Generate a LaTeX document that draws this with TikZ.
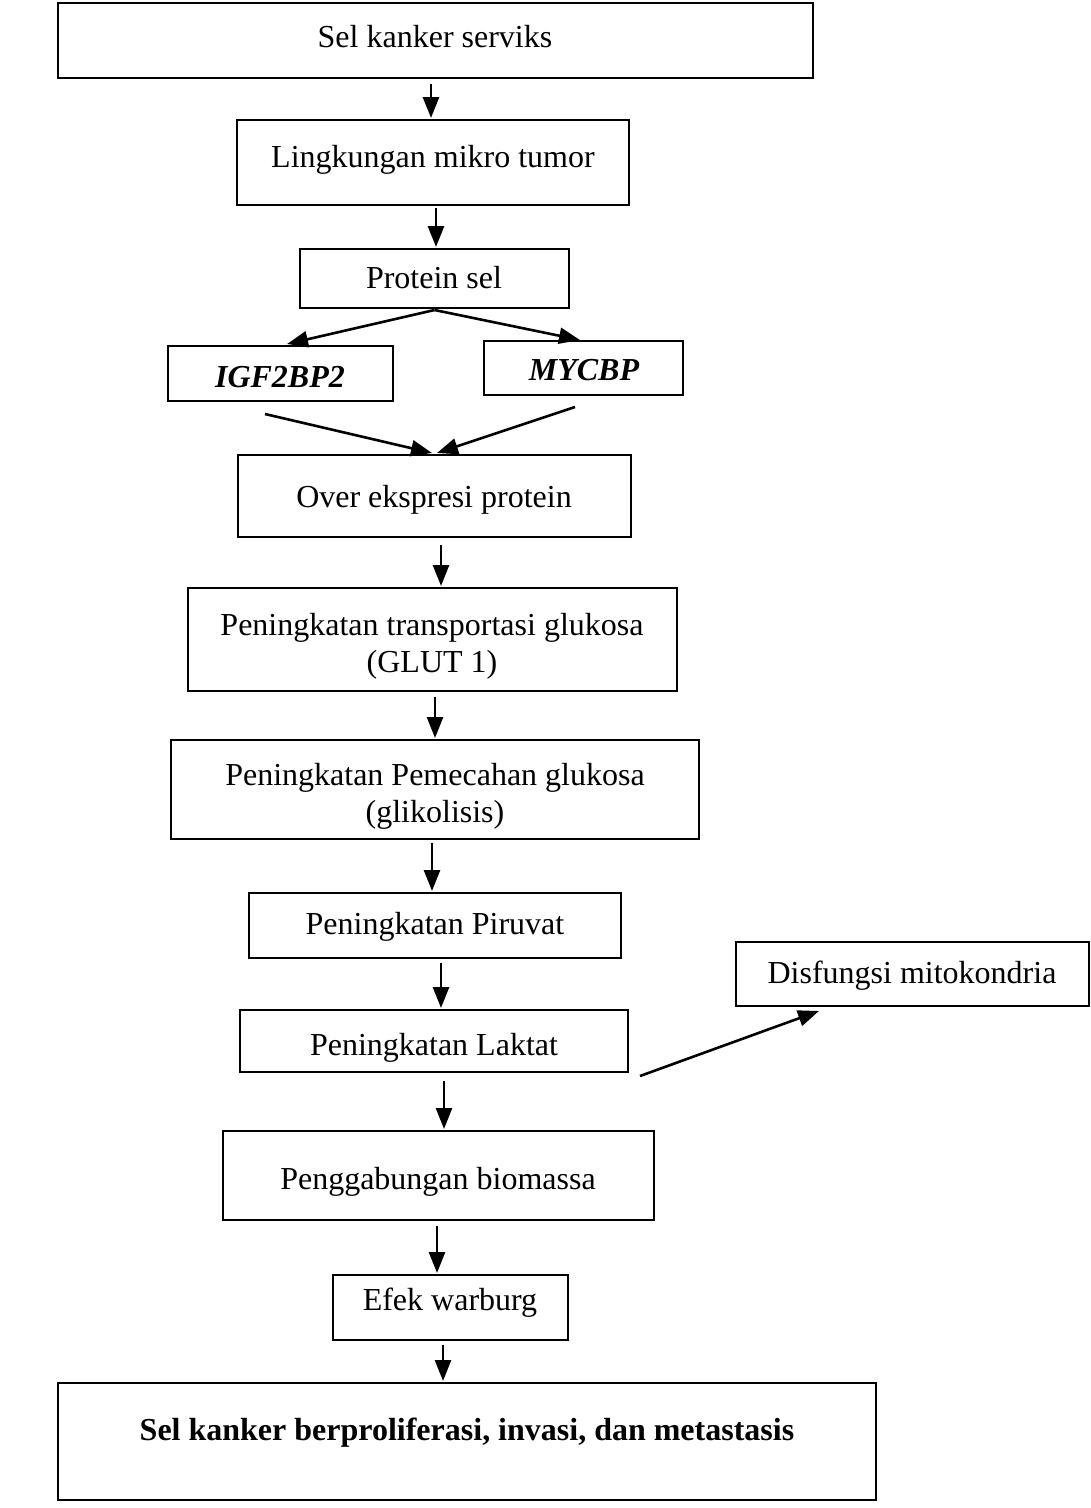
\documentclass[tikz,border=0pt]{standalone}
\usepackage{fontspec}
\setmainfont{Liberation Serif}
\usetikzlibrary{arrows.meta}
\begin{document}
\begin{tikzpicture}[x=1pt,y=-1pt,
 box/.style={draw, line width=2.8pt, inner sep=0pt, outer sep=0pt},
 txt/.style={font=\fontsize{32}{37}\selectfont, inner sep=0pt},
 one/.style={text height=22pt, text depth=7pt},
 arr/.style={line width=2.6pt, -{Triangle[length=21pt,width=16pt]}}]
\useasboundingbox (0,0) rectangle (1091,1508);
\fill[white] (0,0) rectangle (1091,1508);
% boxes
\node[box, minimum width=755pt, minimum height=75pt]  (b1)  at (435.5,40.5) {};
\node[box, minimum width=392pt, minimum height=85pt]  (b2)  at (433,162.5) {};
\node[box, minimum width=269pt, minimum height=59pt]  (b3)  at (434.5,278.5) {};
\node[box, minimum width=225pt, minimum height=55pt]  (b4)  at (280.5,373.5) {};
\node[box, minimum width=199pt, minimum height=54pt]  (b5)  at (583.5,368) {};
\node[box, minimum width=393pt, minimum height=82pt]  (b6)  at (434.5,496) {};
\node[box, minimum width=489pt, minimum height=103pt] (b7)  at (432.5,639.5) {};
\node[box, minimum width=528pt, minimum height=99pt]  (b8)  at (435,789.5) {};
\node[box, minimum width=372pt, minimum height=65pt]  (b9)  at (435,925.5) {};
\node[box, minimum width=353pt, minimum height=64pt]  (b10) at (912.5,974) {};
\node[box, minimum width=388pt, minimum height=62pt]  (b11) at (434,1041) {};
\node[box, minimum width=431pt, minimum height=89pt]  (b12) at (438.5,1175.5) {};
\node[box, minimum width=235pt, minimum height=65pt]  (b13) at (450.5,1307.5) {};
\node[box, minimum width=818pt, minimum height=117pt] (b14) at (467,1441.5) {};
% texts
\node[txt, one] (t1)  at (435,40)   {Sel kanker serviks};
\node[txt, one] (t2)  at (433,160)  {Lingkungan mikro tumor};
\node[txt, one] (t3)  at (434,281)  {Protein sel};
\node[txt, one, font=\fontsize{32}{37}\selectfont\bfseries\itshape] (t4) at (280,380) {IGF2BP2};
\node[txt, one, font=\fontsize{32}{37}\selectfont\bfseries\itshape] (t5) at (584,373) {MYCBP};
\node[txt, one] (t6)  at (434,500)  {Over ekspresi protein};
\node[txt, align=center] (t7) at (432,646) {Peningkatan transportasi glukosa\\(GLUT 1)};
\node[txt, align=center] (t8) at (435,796) {Peningkatan Pemecahan glukosa\\(glikolisis)};
\node[txt, one] (t9)  at (435,927)  {Peningkatan Piruvat};
\node[txt, one] (t10) at (912,976)  {Disfungsi mitokondria};
\node[txt, one] (t11) at (434,1048) {Peningkatan Laktat};
\node[txt, one] (t12) at (438,1182) {Penggabungan biomassa};
\node[txt, one] (t13) at (450,1303) {Efek warburg};
\node[txt, one, font=\fontsize{32}{37}\selectfont\bfseries] (t14) at (467,1433) {Sel kanker berproliferasi, invasi, dan metastasis};
% connectors
\draw[arr] ([xshift=-4.5pt,yshift=-6pt]b1.south) -- ([xshift=-2pt,yshift=2pt]b2.north);
\draw[arr] ([xshift=3pt,yshift=-3pt]b2.south) -- ([xshift=1.5pt,yshift=2pt]b3.north);
\draw[arr] ([yshift=-2pt]b3.south) -- ([xshift=6.5pt,yshift=2pt]b4.north);
\draw[arr] ([yshift=-2pt]b3.south) -- ([xshift=-3.5pt,yshift=1pt]b5.north);
\draw[arr] ([xshift=-15.5pt,yshift=-13pt]b4.south) -- ([xshift=-2.5pt,yshift=2pt]b6.north);
\draw[arr] ([xshift=-8.5pt,yshift=-12pt]b5.south) -- ([xshift=2.5pt,yshift=2pt]b6.north);
\draw[arr] ([xshift=6.5pt,yshift=-8pt]b6.south) -- ([xshift=8.5pt,yshift=2pt]b7.north);
\draw[arr] ([xshift=2.5pt,yshift=-6pt]b7.south) -- ([yshift=2pt]b8.north);
\draw[arr] ([xshift=-3pt,yshift=-4pt]b8.south) -- ([xshift=-3pt,yshift=2pt]b9.north);
\draw[arr] ([xshift=6pt,yshift=-5pt]b9.south) -- ([xshift=7pt,yshift=2pt]b11.north);
\draw[arr] ([xshift=12pt,yshift=-4pt]b11.south east) -- ([xshift=83pt,yshift=-5pt]b10.south west);
\draw[arr] ([xshift=10pt,yshift=-9pt]b11.south) -- ([xshift=5.5pt,yshift=2pt]b12.north);
\draw[arr] ([xshift=-1.5pt,yshift=-6pt]b12.south) -- ([xshift=-13.5pt,yshift=2pt]b13.north);
\draw[arr] ([xshift=-7.5pt,yshift=-5pt]b13.south) -- ([xshift=-24pt,yshift=2pt]b14.north);
\end{tikzpicture}
\end{document}
